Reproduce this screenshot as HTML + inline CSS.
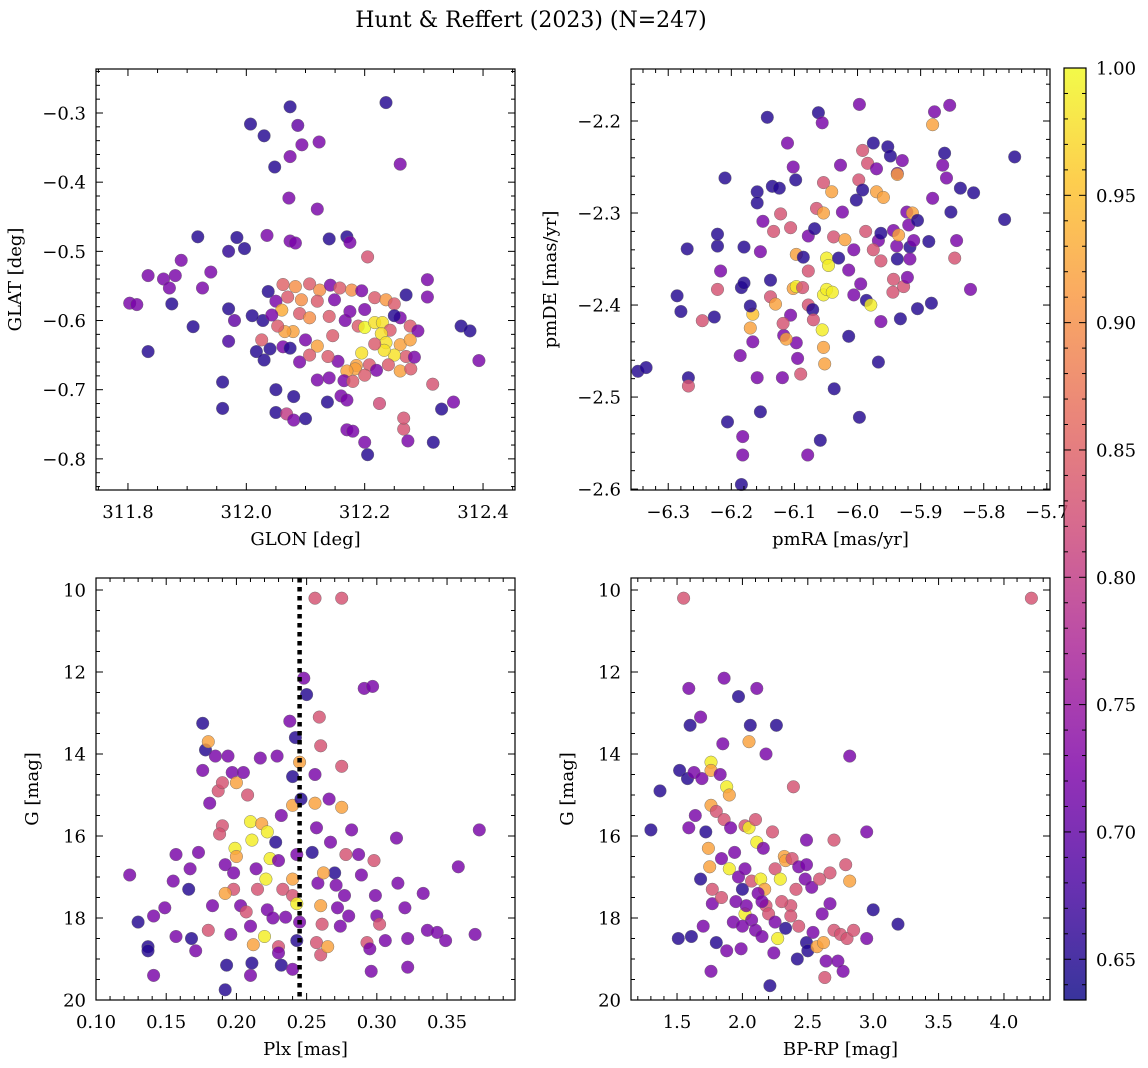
<!DOCTYPE html>
<html><head><meta charset="utf-8">
<style>
html,body{margin:0;padding:0;background:#fff;}
svg{display:block;font-family:"DejaVu Serif","Liberation Serif",serif;}
</style></head>
<body>
<svg id="fig" width="1148" height="1068" viewBox="0 0 1148 1068" xmlns="http://www.w3.org/2000/svg">
<text x="531" y="27" font-size="22" text-anchor="middle">Hunt &amp; Reffert (2023) (N=247)</text>
</svg>
<script>
// ---------- Panel 1: GLON vs GLAT ----------
const p1_glon=[312.007,312.03,312.074,312.087,312.048,312.094,312.074,312.123,312.236,312.26,312.072,312.12,311.918,311.984,312.035,312.074,312.083,312.14,312.17,312.175,311.97,311.997,311.94,311.88,311.834,311.86,311.89,311.926,311.87,311.874,311.803,311.815,311.834,311.91,311.97,311.97,312.017,311.96,311.96,312.05,312.068,312.08,312.1,312.08,312.05,312.137,312.16,312.17,312.17,312.18,312.2,312.205,312.225,312.266,312.273,312.266,312.316,312.33,312.35,312.315,312.363,312.378,312.393,312.306,312.306,312.27,312.205,
312.062,312.083,312.107,312.124,312.142,312.158,312.178,312.195,312.217,312.236,312.25,312.07,312.093,312.12,312.149,312.05,312.037,312.06,312.09,312.107,312.14,312.167,312.189,312.2,312.217,312.23,312.243,312.26,312.277,312.29,312.228,312.236,312.26,312.277,312.27,312.25,312.233,312.217,312.195,312.208,312.186,312.184,312.17,312.155,312.138,312.12,312.1,312.079,312.065,312.053,312.062,312.074,312.04,312.026,312.028,312.043,312.01,312.03,312.09,312.107,312.12,312.14,312.165,312.18,312.2,312.22,312.24,312.26,312.278,312.284,312.25,312.2,312.175,311.98,312.146];
const p1_glat=[-0.316,-0.333,-0.291,-0.318,-0.378,-0.346,-0.363,-0.342,-0.285,-0.374,-0.423,-0.439,-0.479,-0.48,-0.477,-0.485,-0.488,-0.482,-0.479,-0.487,-0.5,-0.496,-0.53,-0.535,-0.535,-0.54,-0.513,-0.553,-0.553,-0.576,-0.575,-0.577,-0.645,-0.609,-0.583,-0.63,-0.645,-0.689,-0.727,-0.733,-0.735,-0.744,-0.742,-0.71,-0.7,-0.718,-0.709,-0.715,-0.758,-0.76,-0.776,-0.794,-0.72,-0.757,-0.774,-0.741,-0.776,-0.728,-0.718,-0.692,-0.608,-0.615,-0.658,-0.541,-0.566,-0.563,-0.508,
-0.548,-0.551,-0.547,-0.556,-0.549,-0.553,-0.556,-0.557,-0.567,-0.57,-0.576,-0.566,-0.57,-0.572,-0.57,-0.572,-0.558,-0.585,-0.59,-0.596,-0.594,-0.6,-0.608,-0.61,-0.603,-0.603,-0.614,-0.596,-0.608,-0.615,-0.619,-0.632,-0.635,-0.628,-0.652,-0.65,-0.643,-0.634,-0.647,-0.664,-0.665,-0.67,-0.673,-0.659,-0.652,-0.637,-0.628,-0.616,-0.616,-0.608,-0.638,-0.64,-0.641,-0.628,-0.6,-0.592,-0.593,-0.657,-0.66,-0.65,-0.686,-0.683,-0.687,-0.688,-0.679,-0.672,-0.664,-0.673,-0.67,-0.653,-0.593,-0.584,-0.587,-0.6,-0.622];
const p1_prob=[0.65,0.65,0.65,0.7,0.65,0.72,0.72,0.72,0.65,0.72,0.72,0.72,0.65,0.65,0.72,0.72,0.72,0.65,0.65,0.72,0.66,0.65,0.72,0.72,0.72,0.72,0.72,0.72,0.72,0.65,0.72,0.72,0.65,0.65,0.65,0.68,0.65,0.65,0.65,0.65,0.8,0.72,0.65,0.65,0.65,0.65,0.72,0.72,0.72,0.72,0.72,0.65,0.82,0.83,0.72,0.83,0.65,0.65,0.72,0.83,0.65,0.65,0.72,0.72,0.72,0.65,0.83,
0.85,0.9,0.84,0.9,0.72,0.84,0.9,0.72,0.84,0.91,0.84,0.84,0.9,0.84,0.72,0.72,0.65,0.93,0.84,0.9,0.84,0.72,0.84,1.0,0.98,0.98,0.84,0.72,0.84,0.72,0.98,0.98,0.92,0.92,0.84,0.98,0.98,0.84,0.98,0.84,0.92,0.92,0.92,0.72,0.84,0.92,0.72,0.92,0.92,0.84,0.72,0.65,0.65,0.84,0.65,0.72,0.65,0.65,0.72,0.84,0.72,0.72,0.72,0.84,0.84,0.72,0.84,0.92,0.84,0.72,0.65,0.72,0.72,0.7,0.84];

// ---------- Panel 2: pmRA vs pmDE ----------
const p2_pmra=[-6.348,-6.335,-6.268,-6.268,-6.286,-6.28,-6.27,-6.246,-6.227,-6.222,-6.222,-6.222,-6.21,-6.217,-6.206,-6.184,-6.18,-6.18,-6.186,-6.184,-6.182,-6.182,-6.17,-6.166,-6.17,-6.166,-6.159,-6.159,-6.159,-6.154,-6.143,-6.15,-6.154,-6.138,-6.133,-6.138,-6.135,-6.13,-6.124,-6.122,-6.119,-6.117,-6.111,-6.106,-6.102,-6.098,-6.097,-6.102,-6.097,-6.087,-6.106,-6.097,-6.095,-6.09,-6.113,-6.118,-6.086,-6.078,-6.078,-6.078,-6.068,-6.065,-6.071,-6.079,-6.059,-6.062,-6.056,-6.054,-6.054,-6.049,-6.049,-6.046,-6.054,-6.054,-6.052,-6.056,-6.07,-6.041,-6.038,-6.04,-6.03,-6.027,-6.024,-6.02,-6.014,-6.037,-6.014,-6.006,-6.006,-6.002,-5.998,-5.997,-5.995,-5.997,-5.992,-5.987,-5.984,-5.986,-5.979,-5.992,-5.975,-5.97,-5.97,-5.967,-5.963,-5.975,-5.967,-5.959,-5.952,-5.948,-5.943,-5.963,-5.963,-5.944,-5.943,-5.937,-5.937,-5.938,-5.917,-5.932,-5.927,-5.935,-5.917,-5.922,-5.919,-5.911,-5.913,-5.937,-5.929,-5.921,-5.905,-5.887,-5.881,-5.878,-5.883,-5.881,-5.865,-5.862,-5.859,-5.854,-5.852,-5.846,-5.843,-5.837,-5.821,-5.816,-5.767,-5.751,-5.905];
const p2_pmde=[-2.472,-2.468,-2.479,-2.488,-2.39,-2.407,-2.339,-2.417,-2.413,-2.383,-2.336,-2.323,-2.262,-2.363,-2.527,-2.381,-2.376,-2.337,-2.455,-2.595,-2.563,-2.543,-2.425,-2.41,-2.401,-2.44,-2.277,-2.289,-2.479,-2.516,-2.196,-2.309,-2.342,-2.373,-2.32,-2.391,-2.271,-2.399,-2.273,-2.301,-2.479,-2.433,-2.224,-2.316,-2.25,-2.264,-2.345,-2.382,-2.38,-2.381,-2.411,-2.441,-2.458,-2.475,-2.437,-2.42,-2.348,-2.325,-2.363,-2.4,-2.317,-2.295,-2.405,-2.563,-2.547,-2.191,-2.202,-2.267,-2.389,-2.383,-2.349,-2.357,-2.3,-2.446,-2.464,-2.427,-2.416,-2.277,-2.326,-2.386,-2.349,-2.248,-2.299,-2.329,-2.362,-2.491,-2.434,-2.389,-2.34,-2.286,-2.264,-2.522,-2.377,-2.182,-2.275,-2.32,-2.246,-2.395,-2.4,-2.232,-2.224,-2.252,-2.277,-2.33,-2.352,-2.34,-2.462,-2.283,-2.228,-2.238,-2.372,-2.322,-2.418,-2.386,-2.319,-2.35,-2.257,-2.336,-2.337,-2.415,-2.38,-2.324,-2.35,-2.299,-2.313,-2.33,-2.3,-2.258,-2.243,-2.37,-2.404,-2.331,-2.204,-2.19,-2.398,-2.284,-2.248,-2.235,-2.262,-2.183,-2.299,-2.349,-2.33,-2.273,-2.383,-2.278,-2.307,-2.239,-2.308];
const p2_prob=[0.65,0.65,0.65,0.83,0.65,0.65,0.65,0.83,0.65,0.83,0.65,0.65,0.65,0.72,0.65,0.65,0.65,0.65,0.72,0.65,0.72,0.72,0.92,0.95,0.65,0.72,0.65,0.65,0.72,0.65,0.65,0.72,0.72,0.65,0.83,0.83,0.65,0.92,0.65,0.83,0.72,0.72,0.72,0.83,0.72,0.65,0.92,0.92,0.99,0.83,0.72,0.72,0.72,0.83,0.92,0.83,0.65,0.72,0.83,0.83,0.65,0.83,0.65,0.72,0.65,0.65,0.72,0.83,0.99,0.99,0.99,0.99,0.92,0.92,0.92,0.99,0.83,0.92,0.83,0.99,0.65,0.72,0.72,0.92,0.72,0.65,0.65,0.72,0.72,0.65,0.83,0.65,0.72,0.72,0.65,0.83,0.83,0.65,0.99,0.83,0.65,0.72,0.92,0.72,0.83,0.83,0.65,0.92,0.65,0.65,0.83,0.65,0.72,0.83,0.72,0.65,0.72,0.72,0.65,0.65,0.83,0.92,0.72,0.72,0.72,0.72,0.92,0.92,0.72,0.72,0.65,0.65,0.92,0.72,0.65,0.72,0.72,0.65,0.72,0.72,0.65,0.83,0.72,0.65,0.72,0.65,0.65,0.65,0.65];

// ---------- Panel 3: Plx vs G ----------
const p3_plx=[0.124,0.13,0.137,0.137,0.141,0.141,0.149,0.155,0.157,0.157,0.166,0.168,0.167,0.173,0.171,0.18,0.176,0.178,0.18,0.176,0.181,0.185,0.187,0.19,0.19,0.188,0.194,0.197,0.2,0.199,0.2,0.198,0.198,0.192,0.192,0.196,0.193,0.192,0.183,0.205,0.208,0.21,0.211,0.214,0.203,0.207,0.21,0.212,0.211,0.21,0.217,0.218,0.222,0.224,0.221,0.222,0.22,0.229,0.232,0.228,0.23,0.233,0.235,0.23,0.23,0.232,0.238,0.242,0.24,0.24,0.243,0.24,0.24,0.243,0.245,0.243,0.24,0.245,0.246,0.248,0.25,0.256,0.275,0.259,0.26,0.256,0.256,0.257,0.254,0.258,0.26,0.261,0.257,0.26,0.265,0.266,0.267,0.27,0.271,0.272,0.274,0.275,0.275,0.278,0.277,0.282,0.28,0.291,0.297,0.287,0.289,0.293,0.295,0.296,0.298,0.299,0.3,0.302,0.306,0.314,0.315,0.32,0.322,0.322,0.333,0.336,0.343,0.349,0.358,0.37,0.373,0.215,0.226,0.262];
const p3_g=[16.95,18.1,18.7,18.8,17.95,19.4,17.75,17.1,16.45,18.45,17.3,18.5,16.8,16.4,18.8,18.3,13.25,13.9,13.7,14.4,15.2,14.05,14.9,14.7,15.75,15.95,14.05,14.45,14.7,16.3,16.5,16.9,17.3,16.7,17.4,18.4,19.15,19.75,17.7,14.45,15.0,15.65,16.1,16.8,17.7,17.85,18.2,18.65,19.1,19.4,14.1,15.7,15.9,16.55,17.05,17.8,18.45,14.05,15.5,16.15,16.6,17.3,17.98,18.7,18.85,19.15,13.2,13.6,14.55,15.25,16.45,17.05,17.45,17.65,18.1,18.55,19.25,14.2,15.1,12.15,12.55,10.2,10.2,13.1,13.8,14.5,15.2,15.8,16.4,17.15,17.7,18.15,18.6,18.9,18.7,15.1,16.15,16.9,17.2,17.75,18.2,14.3,15.3,16.45,17.45,15.85,17.95,12.4,12.35,16.45,16.95,18.6,18.75,19.3,16.6,17.45,17.95,18.15,18.55,16.05,17.15,17.75,18.5,19.2,17.4,18.3,18.35,18.55,16.75,18.4,15.85,17.3,18.0,16.9];
const p3_prob=[0.72,0.65,0.65,0.65,0.72,0.72,0.72,0.72,0.72,0.72,0.65,0.65,0.72,0.72,0.72,0.83,0.65,0.65,0.92,0.72,0.72,0.72,0.83,0.83,0.83,0.83,0.72,0.72,0.92,0.99,0.92,0.72,0.83,0.72,0.92,0.72,0.65,0.65,0.72,0.72,0.83,0.99,0.99,0.72,0.72,0.83,0.72,0.92,0.65,0.72,0.72,0.92,0.99,0.99,0.99,0.72,0.99,0.72,0.72,0.65,0.72,0.83,0.72,0.83,0.72,0.65,0.72,0.65,0.65,0.92,0.72,0.92,0.83,0.99,0.72,0.65,0.72,0.92,0.65,0.72,0.65,0.83,0.83,0.83,0.83,0.72,0.92,0.72,0.65,0.72,0.92,0.83,0.83,0.83,0.92,0.72,0.72,0.65,0.72,0.72,0.72,0.83,0.92,0.83,0.72,0.72,0.72,0.72,0.72,0.72,0.72,0.83,0.72,0.72,0.83,0.72,0.72,0.83,0.72,0.72,0.72,0.72,0.72,0.72,0.72,0.72,0.72,0.72,0.72,0.72,0.72,0.83,0.72,0.92];

// ---------- Panel 4: BP-RP vs G ----------
const p4_bprp=[1.55,4.21,1.59,1.86,2.11,1.97,1.68,1.6,2.06,2.26,2.05,1.85,1.37,1.52,1.58,1.63,1.69,1.76,1.76,1.83,1.88,1.9,2.18,2.39,2.82,1.3,1.59,1.64,1.76,1.8,1.72,1.86,1.91,2.02,2.05,2.1,2.11,2.16,2.23,2.49,2.7,2.95,1.74,1.75,1.84,1.94,1.68,1.77,1.77,1.84,1.9,1.97,2.0,2.02,2.07,2.14,2.17,2.12,2.18,2.25,2.29,2.32,2.33,2.38,2.43,2.49,2.48,2.53,2.59,2.67,2.79,2.82,2.41,2.37,1.61,1.51,1.8,1.88,1.99,1.93,2.02,2.03,2.07,2.1,2.15,2.2,2.25,2.27,2.24,2.21,2.33,2.37,2.43,2.42,2.49,2.5,2.54,2.57,2.62,2.64,2.7,2.75,2.8,2.73,2.77,2.85,2.95,3.0,3.19,2.63,1.76,2.61,2.67,1.95,2.15,2.3,1.7,2.0];
const p4_g=[10.2,10.2,12.4,12.15,12.4,12.6,13.1,13.3,13.3,13.3,13.7,13.75,14.9,14.4,14.6,14.45,14.6,14.2,14.4,14.5,14.8,15.0,14.0,14.8,14.05,15.85,15.8,15.5,15.25,15.4,15.9,15.6,15.8,15.75,15.8,15.6,16.15,16.3,15.9,16.1,16.1,15.9,16.3,16.75,16.55,16.4,17.05,17.3,17.65,17.5,16.8,17.0,17.3,16.8,17.1,17.05,17.3,17.4,17.7,16.8,17.05,16.5,16.6,16.55,16.75,16.7,17.05,17.25,17.05,16.9,16.7,17.1,17.3,17.7,18.45,18.5,18.6,18.8,18.75,18.1,17.9,17.7,18.05,18.3,18.45,17.9,18.1,18.5,18.85,19.65,18.25,17.95,18.2,19.0,18.6,18.8,18.35,18.7,18.6,19.05,18.3,18.4,18.5,19.05,19.3,18.3,18.5,17.8,18.15,19.45,19.3,17.9,17.65,17.6,17.6,17.6,18.2,18.2];
const p4_prob=[0.83,0.83,0.72,0.72,0.72,0.65,0.72,0.65,0.65,0.65,0.92,0.72,0.65,0.65,0.65,0.72,0.72,0.99,0.92,0.72,0.99,0.92,0.72,0.83,0.72,0.65,0.72,0.72,0.92,0.83,0.65,0.83,0.72,0.83,0.99,0.83,0.99,0.72,0.83,0.72,0.83,0.72,0.92,0.92,0.72,0.72,0.65,0.83,0.72,0.83,0.99,0.72,0.65,0.72,0.83,0.99,0.92,0.72,0.83,0.83,0.99,0.92,0.92,0.83,0.72,0.72,0.72,0.72,0.83,0.83,0.83,0.92,0.83,0.83,0.65,0.65,0.65,0.72,0.72,0.72,0.99,0.72,0.72,0.72,0.72,0.83,0.72,0.99,0.72,0.65,0.65,0.83,0.83,0.65,0.65,0.65,0.72,0.92,0.92,0.72,0.83,0.83,0.83,0.72,0.72,0.83,0.72,0.65,0.65,0.83,0.72,0.72,0.72,0.72,0.72,0.83,0.72,0.72];

const cbTicks=[0.65,0.70,0.75,0.80,0.85,0.90,0.95,1.00];
const VMIN=0.634, VMAX=1.0;

const NS="http://www.w3.org/2000/svg";
const svg=document.getElementById('fig');
function mk(tag,attrs,parent){const e=document.createElementNS(NS,tag);for(const k in attrs)e.setAttribute(k,attrs[k]);(parent||svg).appendChild(e);return e;}

const stops=[[0,[13,8,135]],[0.13,[75,3,161]],[0.25,[126,3,168]],[0.38,[170,35,149]],[0.5,[204,71,120]],[0.63,[230,108,92]],[0.75,[248,149,64]],[0.88,[253,196,39]],[1,[240,249,33]]];
function cmap(v){let t=(v-VMIN)/(VMAX-VMIN);t=Math.max(0,Math.min(1,t));
 for(let i=1;i<stops.length;i++){if(t<=stops[i][0]){const a=stops[i-1],b=stops[i];const f=(t-a[0])/(b[0]-a[0]);
  const c=a[1].map((x,j)=>Math.round(x+(b[1][j]-x)*f));return `rgb(${c[0]},${c[1]},${c[2]})`;}}
 return 'rgb(240,249,33)';}
function fmt(v,d){return (v<0?'\u2212':'')+Math.abs(v).toFixed(d);}
const FS=18;

function panel(cfg){
 const g=mk('g',{});
 
 
 const {L,T,R,B}=cfg;
 const sx=v=>L+(v-cfg.x0)/(cfg.x1-cfg.x0)*(R-L);
 const sy=v=>T+(v-cfg.y0)/(cfg.y1-cfg.y0)*(B-T);
 const pg=mk('g',{},g);
 
 
 for(let i=0;i<cfg.xs.length;i++){
  const c=mk('circle',{cx:sx(cfg.xs[i]).toFixed(1),cy:sy(cfg.ys[i]).toFixed(1),r:6.3,fill:cmap(cfg.ps[i]),'fill-opacity':0.82,stroke:'#666','stroke-width':0.4},pg);
  
  
 }
 if(cfg.vline!==undefined){
  const l=mk('line',{x1:sx(cfg.vline),x2:sx(cfg.vline),y1:T,y2:B,stroke:'#000','stroke-width':4.5,'stroke-dasharray':'4.5,4.5'},g);
  
  
 }
 const fr=mk('rect',{x:L,y:T,width:R-L,height:B-T,fill:'none',stroke:'#000','stroke-width':1.2},g);
 
 
 const lo=Math.min(cfg.x0,cfg.x1),hi=Math.max(cfg.x0,cfg.x1);
 for(let k=Math.ceil(lo/cfg.xmin-1e-6);k*cfg.xmin<=hi+1e-9;k++){const v=k*cfg.xmin;const X=sx(v);
  const major=Math.abs(v/cfg.xmaj-Math.round(v/cfg.xmaj))<1e-6;const len=major?7:4;
  mk('line',{x1:X,x2:X,y1:B,y2:B-len,stroke:'#000','stroke-width':1},g);
  mk('line',{x1:X,x2:X,y1:T,y2:T+len,stroke:'#000','stroke-width':1},g);
  if(major){const t=mk('text',{x:X,y:B+28,'font-size':FS,'text-anchor':'middle'},g);t.textContent=fmt(v,cfg.xd);
   }}
 const ylo=Math.min(cfg.y0,cfg.y1),yhi=Math.max(cfg.y0,cfg.y1);
 for(let k=Math.ceil(ylo/cfg.ymin-1e-6);k*cfg.ymin<=yhi+1e-9;k++){const v=k*cfg.ymin;const Y=sy(v);
  const major=Math.abs(v/cfg.ymaj-Math.round(v/cfg.ymaj))<1e-6;const len=major?7:4;
  mk('line',{x1:L,x2:L+len,y1:Y,y2:Y,stroke:'#000','stroke-width':1},g);
  mk('line',{x1:R,x2:R-len,y1:Y,y2:Y,stroke:'#000','stroke-width':1},g);
  if(major){const t=mk('text',{x:L-10,y:Y+6.5,'font-size':FS,'text-anchor':'end'},g);t.textContent=fmt(v,cfg.yd);
   }}
 const xl=mk('text',{x:(L+R)/2,y:B+55,'font-size':FS,'text-anchor':'middle'},g);xl.textContent=cfg.xlabel;
 
 const yx=L-cfg.ylo;const yc=(T+B)/2;
 const yl=mk('text',{x:yx,y:yc,'font-size':FS,'text-anchor':'middle',transform:`rotate(-90 ${yx} ${yc})`},g);yl.textContent=cfg.ylabel;
 
}

panel({name:'glon-glat-panel',L:96,T:69,R:515,B:490,x0:311.746,x1:312.454,y0:-0.2364,y1:-0.845,xs:p1_glon,ys:p1_glat,ps:p1_prob,xmaj:0.2,xmin:0.05,ymaj:0.1,ymin:0.02,xd:1,yd:1,xlabel:'GLON [deg]',ylabel:'GLAT [deg]',ylo:75});
panel({name:'proper-motion-panel',L:631,T:69,R:1050,B:490,x0:-6.359,x1:-5.695,y0:-2.1435,y1:-2.601,xs:p2_pmra,ys:p2_pmde,ps:p2_prob,xmaj:0.1,xmin:0.02,ymaj:0.1,ymin:0.02,xd:1,yd:1,xlabel:'pmRA [mas/yr]',ylabel:'pmDE [mas/yr]',ylo:75});
panel({name:'parallax-mag-panel',L:96,T:578,R:515,B:1000,x0:0.10,x1:0.3984,y0:9.707,y1:20,xs:p3_plx,ys:p3_g,ps:p3_prob,xmaj:0.05,xmin:0.01,ymaj:2,ymin:0.5,xd:2,yd:0,xlabel:'Plx [mas]',ylabel:'G [mag]',ylo:58,vline:0.245});
panel({name:'cmd-panel',L:631,T:578,R:1050,B:1000,x0:1.148,x1:4.352,y0:9.707,y1:20,xs:p4_bprp,ys:p4_g,ps:p4_prob,xmaj:0.5,xmin:0.1,ymaj:2,ymin:0.5,xd:1,yd:0,xlabel:'BP-RP [mag]',ylabel:'G [mag]',ylo:58});

(function(){
 const cb=mk('g',{});
 
 
 const L=1064,R=1086,T=68,B=1000;
 const defs=mk('defs',{},cb);
 const lg=mk('linearGradient',{id:'cbg',x1:0,y1:1,x2:0,y2:0},defs);
 stops.forEach(s=>{mk('stop',{offset:s[0],'stop-color':`rgb(${s[1].join(',')})`,'stop-opacity':0.82},lg);});
 const r=mk('rect',{x:L,y:T,width:R-L,height:B-T,fill:'url(#cbg)',stroke:'#000','stroke-width':1.2},cb);
 
 
 const sy=v=>B-(v-VMIN)/(VMAX-VMIN)*(B-T);
 for(let k=64;k<=100;k++){const v=k/100;const Y=sy(v);const major=k%5===0;
  mk('line',{x1:R,x2:R-(major?7:4),y1:Y,y2:Y,stroke:'#000','stroke-width':1},cb);
  mk('line',{x1:L,x2:L+(major?7:4),y1:Y,y2:Y,stroke:'#000','stroke-width':1},cb);}
 cbTicks.forEach(v=>{const t=mk('text',{x:R+10,y:sy(v)+6.5,'font-size':FS},cb);t.textContent=v.toFixed(2);
  });
})();
</script>
</body></html>
